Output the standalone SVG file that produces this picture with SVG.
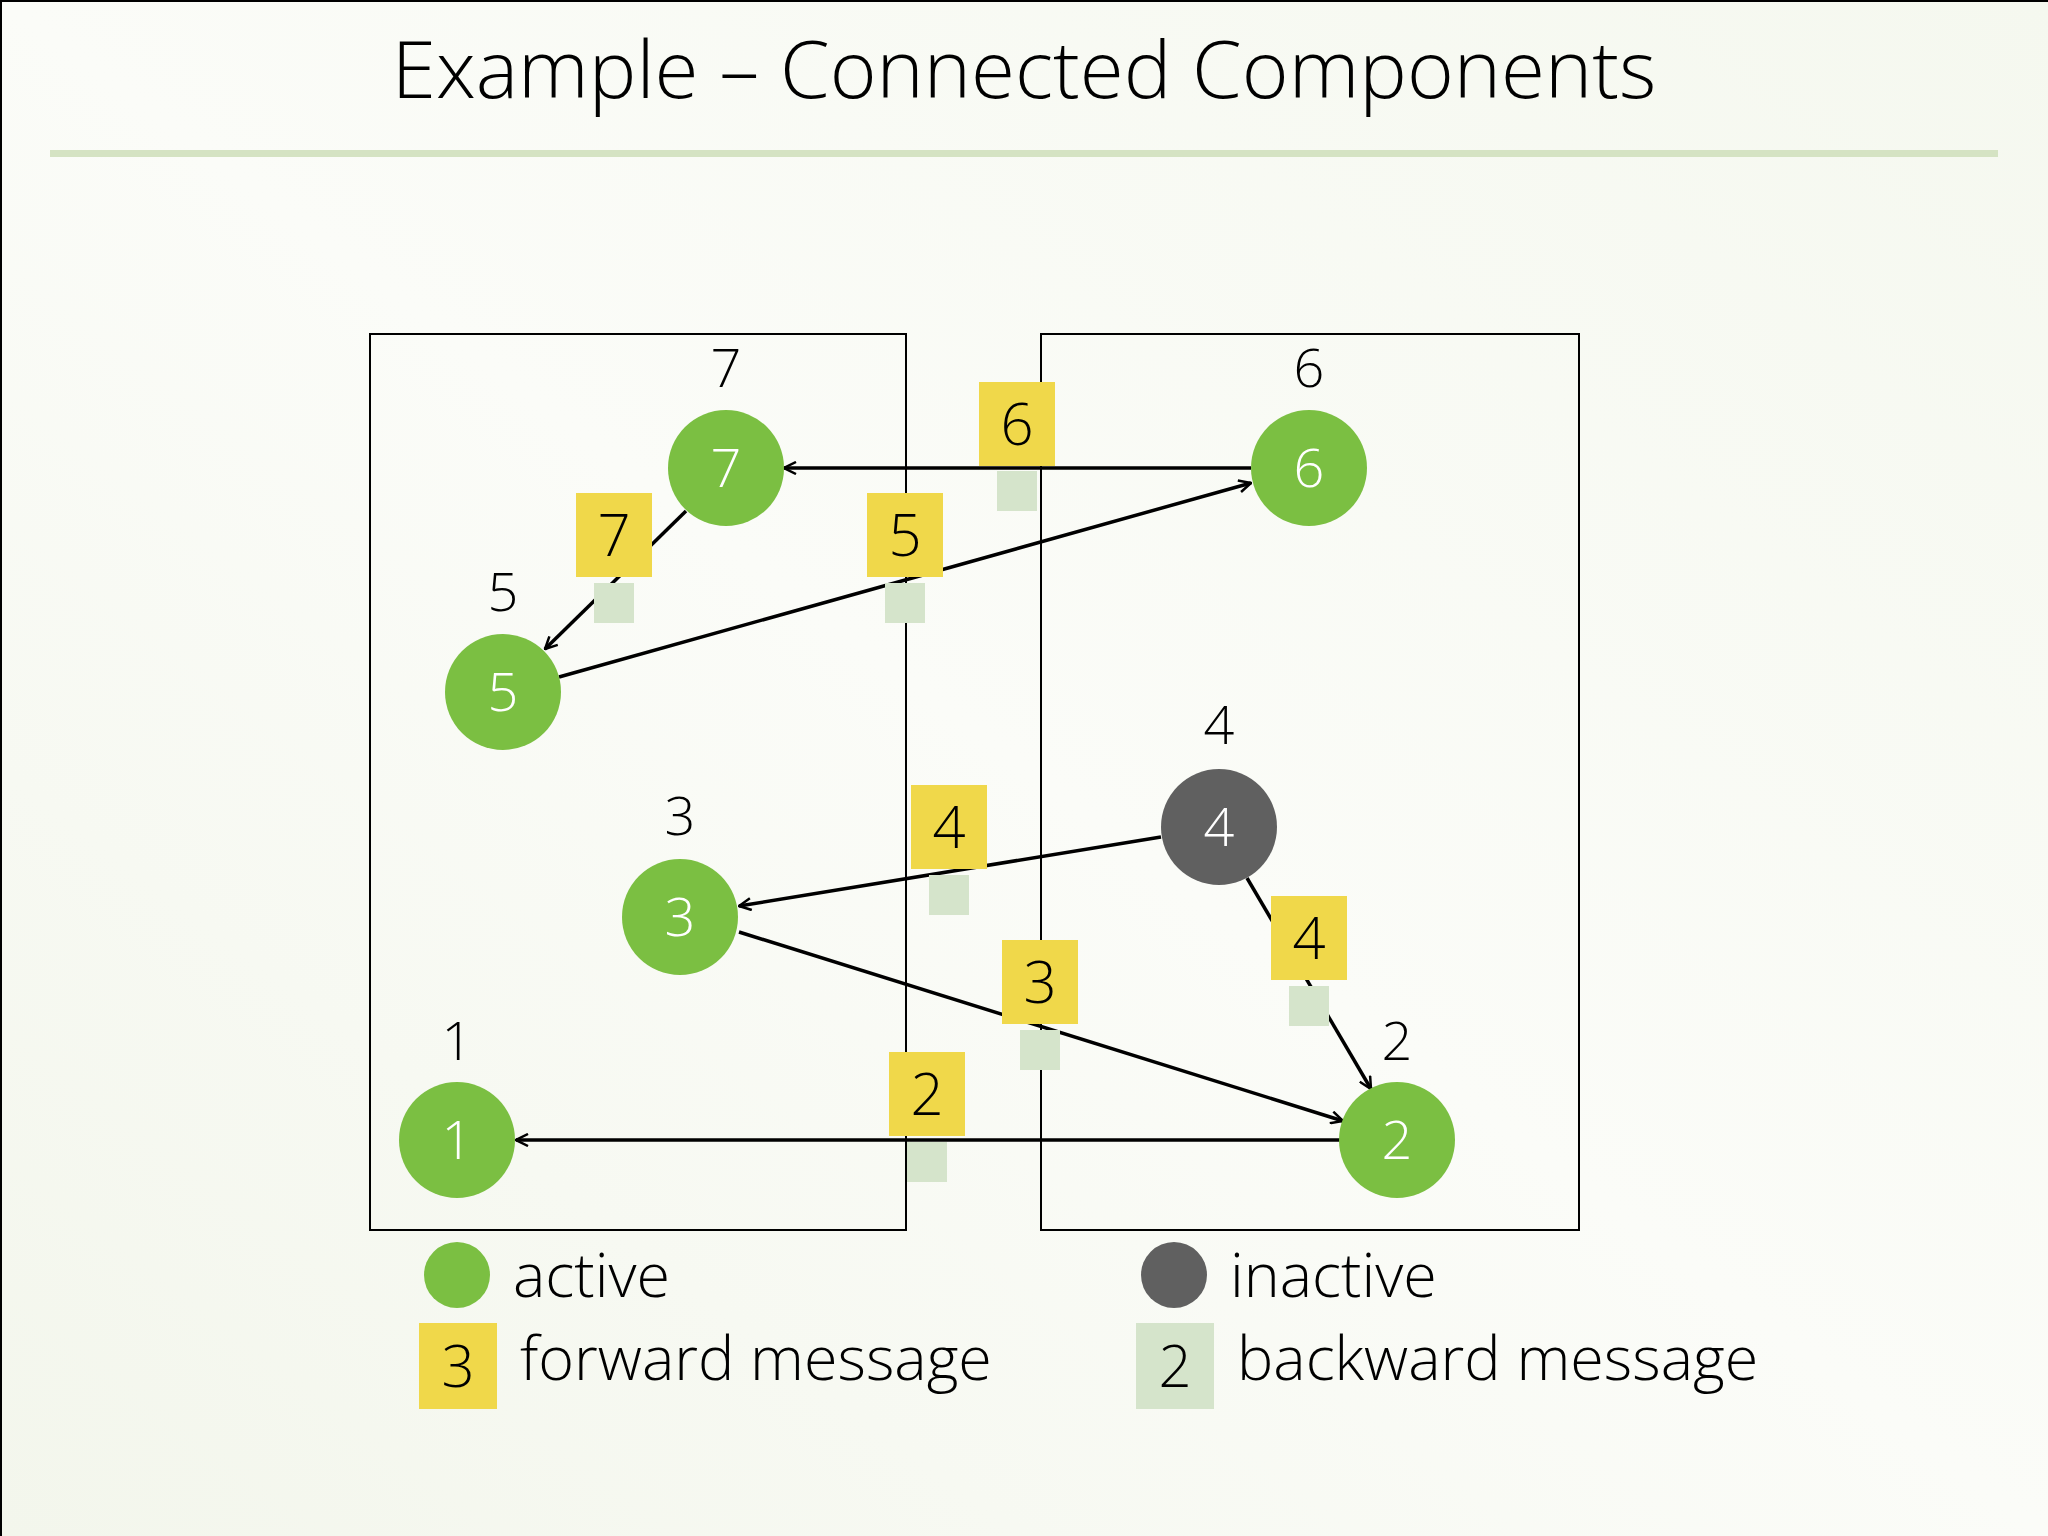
<svg xmlns="http://www.w3.org/2000/svg" width="2048" height="1536" viewBox="0 0 2048 1536">
<defs>
<linearGradient id="bg" x1="0" y1="1" x2="1" y2="0"><stop offset="0" stop-color="#f3f6ec"/><stop offset="0.5" stop-color="#fbfcf8"/><stop offset="1" stop-color="#f5f8ef"/></linearGradient>
<marker id="ar" viewBox="0 0 14 14" refX="13" refY="7" markerWidth="14" markerHeight="14" markerUnits="userSpaceOnUse" orient="auto"><path d="M1,1 L13,7 L1,13" fill="none" stroke="#000" stroke-width="2.5"/></marker>
<style>
text{font-family:"Open Sans","Liberation Sans",sans-serif;font-weight:300;text-anchor:middle}
.box{fill:none;stroke:#000;stroke-width:2}
.act{fill:#7bbf42}.ina{fill:#606060}
.nt{fill:#fff;font-size:54px}
.lb{fill:#000;font-size:54px}
.fw{fill:#f0d84a}.bw{fill:#d5e4cb}
.st{fill:#000;font-size:58px}
.e{stroke:#000;stroke-width:3.5;fill:none;marker-end:url(#ar)}
.lg{font-size:61px;text-anchor:start;fill:#000}
</style>
</defs>
<rect width="2048" height="1536" fill="url(#bg)"/>
<path d="M1,1536 V1 H2048" fill="none" stroke="#000" stroke-width="2"/>
<text x="1024" y="98" font-size="80" fill="#000">Example – Connected Components</text>
<rect x="50" y="150" width="1948" height="7" fill="#d5e3c3"/>
<rect class="box" x="370" y="334" width="536" height="896"/>
<rect class="box" x="1041" y="334" width="538" height="896"/>
<g id="connectors">
<line class="e" x1="1251" y1="468" x2="784" y2="468"/>
<line class="e" x1="686" y1="511" x2="545" y2="649"/>
<line class="e" x1="559" y1="677" x2="1251" y2="483"/>
<line class="e" x1="1161" y1="837" x2="739" y2="906"/>
<line class="e" x1="1247" y1="878" x2="1371" y2="1089"/>
<line class="e" x1="739" y1="932" x2="1343" y2="1121"/>
<line class="e" x1="1341" y1="1140" x2="516" y2="1140"/>
</g>
<g id="messages">
<rect class="fw" x="979" y="382" width="76" height="84"/><text class="st" x="1017" y="445">6</text><rect class="bw" x="997" y="471" width="40" height="40"/>
<rect class="fw" x="576" y="493" width="76" height="84"/><text class="st" x="614" y="556">7</text><rect class="bw" x="594" y="583" width="40" height="40"/>
<rect class="fw" x="867" y="493" width="76" height="84"/><text class="st" x="905" y="556">5</text><rect class="bw" x="885" y="583" width="40" height="40"/>
<rect class="fw" x="911" y="785" width="76" height="84"/><text class="st" x="949" y="848">4</text><rect class="bw" x="929" y="875" width="40" height="40"/>
<rect class="fw" x="1271" y="896" width="76" height="84"/><text class="st" x="1309" y="959">4</text><rect class="bw" x="1289" y="986" width="40" height="40"/>
<rect class="fw" x="1002" y="940" width="76" height="84"/><text class="st" x="1040" y="1003">3</text><rect class="bw" x="1020" y="1030" width="40" height="40"/>
<rect class="fw" x="889" y="1052" width="76" height="84"/><text class="st" x="927" y="1115">2</text><rect class="bw" x="907" y="1142" width="40" height="40"/>
</g>
<g id="n7"><circle class="act" cx="726" cy="468" r="58"/><text class="nt" x="726" y="487">7</text><text class="lb" x="726" y="387">7</text></g>
<g id="n6"><circle class="act" cx="1309" cy="468" r="58"/><text class="nt" x="1309" y="487">6</text><text class="lb" x="1309" y="387">6</text></g>
<g id="n5"><circle class="act" cx="503" cy="692" r="58"/><text class="nt" x="503" y="711">5</text><text class="lb" x="503" y="611">5</text></g>
<g id="n4"><circle class="ina" cx="1219" cy="827" r="58"/><text class="nt" x="1219" y="846">4</text><text class="lb" x="1219" y="744">4</text></g>
<g id="n3"><circle class="act" cx="680" cy="917" r="58"/><text class="nt" x="680" y="936">3</text><text class="lb" x="680" y="835">3</text></g>
<g id="n1"><circle class="act" cx="457" cy="1140" r="58"/><text class="nt" x="457" y="1159">1</text><text class="lb" x="457" y="1060">1</text></g>
<g id="n2"><circle class="act" cx="1397" cy="1140" r="58"/><text class="nt" x="1397" y="1159">2</text><text class="lb" x="1397" y="1060">2</text></g>
<g id="legend">
<circle class="act" cx="457" cy="1275" r="33"/><text class="lg" x="513" y="1297">active</text>
<circle class="ina" cx="1174" cy="1275" r="33"/><text class="lg" x="1230" y="1297">inactive</text>
<rect class="fw" x="419" y="1323" width="78" height="86"/><text class="st" x="458" y="1387">3</text><text class="lg" x="520" y="1380">forward message</text>
<rect class="bw" x="1136" y="1323" width="78" height="86"/><text class="st" x="1175" y="1387">2</text><text class="lg" x="1237" y="1380">backward message</text>
</g>
</svg>
